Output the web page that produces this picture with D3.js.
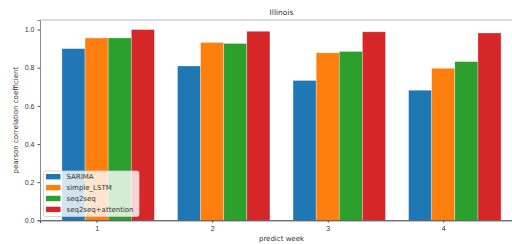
<!DOCTYPE html>
<html>
<head>
<meta charset="utf-8">
<script src="https://cdn.jsdelivr.net/npm/d3@7"></script>
<style>
  body { margin: 0; background: #fff; }
  svg { display: block; font-family: "DejaVu Sans", sans-serif; }
</style>
</head>
<body>
<script>
// data
const weeks = [1, 2, 3, 4];
const models = ["SARIMA", "simple_LSTM", "seq2seq", "seq2seq+attention"];
const colors = ["#1f77b4", "#ff7f0e", "#2ca02c", "#d62728"];
const sarima = [0.900, 0.809, 0.733, 0.682];
const lstm = [0.956, 0.932, 0.878, 0.797];
const s2s = [0.956, 0.927, 0.885, 0.832];
const s2sAtt = [1.000, 0.991, 0.988, 0.982];
const series = [sarima, lstm, s2s, s2sAtt];
const yTicks = [0, 0.2, 0.4, 0.6, 0.8, 1.0];
const barW = 0.2;

var W = 512, H = 244;
var svg = d3.select("body").append("svg")
            .attr("width", W)
            .attr("height", H);

// axes box runs past the right edge of the picture
// (can't call it "top", that's window.top)
var axL = 40, axR = 523, axT = 20, axB = 220.3;

var x = d3.scaleLinear().domain([0.51, 4.69]).range([axL, axR]);
var y = d3.scaleLinear().domain([0, 1.05]).range([axB, axT]);

// bars: offset -1, 0, 1, 2 widths from the tick
series.forEach(function (vals, i) {
  svg.append("g").selectAll("rect")
    .data(vals)
    .enter().append("rect")
      .attr("x", (d, j) => x(weeks[j] + (i - 1) * barW - barW / 2))
      .attr("width", x(barW) - x(0))
      .attr("y", d => y(d))
      .attr("height", d => y(0) - y(d))
      .attr("fill", colors[i])
      .attr("stroke", "rgba(255,255,255,0.5)")
      .attr("stroke-width", 0.6);
});

// spines
svg.append("line").attr("x1", axL).attr("x2", axR).attr("y1", axT).attr("y2", axT)
   .attr("stroke", "#bbb").attr("stroke-width", 1);

var xAxis = svg.append("g")
  .attr("transform", "translate(0," + axB + ")")
  .call(d3.axisBottom(x).tickValues(weeks).tickFormat(d3.format("d")).tickSize(2.5).tickPadding(3));
var yAxis = svg.append("g")
  .attr("transform", "translate(" + axL + ",0)")
  .call(d3.axisLeft(y).tickValues(yTicks).tickFormat(d3.format(".1f")).tickSize(2.5).tickPadding(3));

[xAxis, yAxis].forEach(function (a) {
  a.select(".domain").attr("stroke", "#333");
  a.selectAll(".tick line").attr("stroke", "#555");
  a.selectAll(".tick text").attr("fill", "#333").style("font-size", "7px");
});
yAxis.select(".domain").attr("stroke", "#888");

// title and labels
svg.append("text")
   .attr("x", (axL + axR) / 2).attr("y", 15)
   .attr("text-anchor", "middle")
   .style("font-size", "7.5px").attr("fill", "#333")
   .text("Illinois");
svg.append("text")
   .attr("x", (axL + axR) / 2).attr("y", 241)
   .attr("text-anchor", "middle")
   .style("font-size", "7px").attr("fill", "#333")
   .text("predict week");
svg.append("text")
   .attr("transform", "translate(18," + ((axT + axB) / 2) + ") rotate(-90)")
   .attr("text-anchor", "middle")
   .style("font-size", "7px").attr("fill", "#333")
   .text("pearson correlation coefficient");

// legend
var lg = svg.append("g").attr("transform", "translate(43.5,171)");
lg.append("rect")
  .attr("width", 95.5).attr("height", 45.5)
  .attr("rx", 2)
  .attr("fill", "rgba(255,255,255,0.8)")
  .attr("stroke", "#ccc").attr("stroke-width", 0.8);
var rows = lg.selectAll("g.row")
  .data(models)
  .enter().append("g")
    .attr("class", "row")
    .attr("transform", (d, i) => "translate(0," + (5.7 + i * 10.9) + ")");
rows.append("rect")
  .attr("x", 2.5).attr("y", -2.7)
  .attr("width", 14.5).attr("height", 5.4)
  .attr("fill", (d, i) => colors[i]);
rows.append("text")
  .attr("x", 23).attr("y", 2.5)
  .style("font-size", "7px").attr("fill", "#333")
  .text(d => d);
</script>
</body>
</html>
